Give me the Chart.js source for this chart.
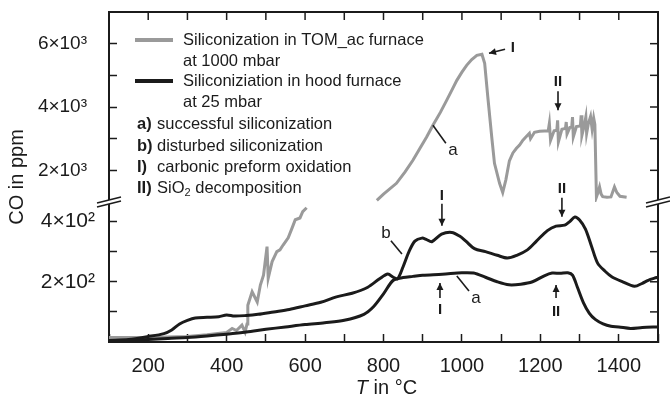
<!DOCTYPE html>
<html><head><meta charset="utf-8">
<script src="https://cdn.jsdelivr.net/npm/chart.js@4.4.1/dist/chart.umd.min.js"></script>
<style>html,body{margin:0;padding:0;background:#fff}canvas{display:block}</style>
</head><body>
<canvas id="c" width="670" height="399"></canvas>
<script>
// ---------- data ----------
// Series 1: Siliconization in TOM_ac furnace at 1000 mbar (grey) – lower axis part
const grayLowT  = [100,200,300,350,400, 414,425,439,447,452, 454,465,478,486,494, 503,506,516,528,536, 544,557,567,575,587, 594,604];
const grayLowCO = [15,15,18,24,32, 45,38,56,33,60, 122,167,133,189,222, 317,212,267,300,306, 322,346,379,406,412, 433,446];
// grey – upper axis part
const grayHighT  = [783,800,833,855,875,893,910,926,945,961,
                    975,987,1000,1012,1025,1038,1051,1058,1066,1076,
                    1083,1096,1104,1112,1121,1130,1139,1147,1155,1163,
                    1172,1175,1185,1198,1210,1220,1223,1226,1235,1242,
                    1244,1246,1255,1264,1266,1268,1275,1280,1282,1284,
                    1292,1302,1304,1306,1312,1316,1318,1322,1328,1332,
                    1336,1339,1343,1347,1351,1355,1359,1370,1380,1389,
                    1395,1403,1420];
const grayHighCO = [1050,1250,1590,1950,2316,2700,3052,3421,3830,4211,
                    4550,4842,5100,5316,5500,5632,5663,5379,4316,3052,
                    2221,1590,1300,1700,2300,2550,2695,2800,2947,3050,
                    3168,3000,3200,3232,3240,3242,3484,2947,3250,3263,
                    3579,2895,3300,3326,3526,3150,3350,3368,3684,3052,
                    3380,3400,3737,3105,3420,3684,3168,3450,3700,3300,
                    3650,3450,1158,1300,1474,1250,1170,1150,1160,1474,
                    1300,1180,1150];
// Series 2: Siliconiziation in hood furnace at 25 mbar – a) successful
const blackAT  = [100,150,200,250,300,350,400,450,500,550,
                  600,650,700,750,775,800,825,850,875,900,
                  950,1000,1030,1060,1090,1120,1150,1180,1210,1230,
                  1250,1270,1282,1295,1310,1325,1340,1360,1380,1400,
                  1430,1460,1500];
const blackACO = [3,5,8,12,15,20,26,33,42,50,
                  58,64,72,92,118,160,205,214,218,222,
                  225,230,229,215,200,190,192,200,220,229,
                  228,230,222,180,130,95,75,60,52,50,
                  45,48,50];
// b) disturbed
const blackBT  = [100,150,200,240,260,280,300,320,350,380,
                  400,420,450,480,520,560,600,640,680,720,
                  760,790,811,825,836,850,865,880,898,910,
                  923,948,974,994,1010,1032,1060,1090,1116,1140,
                  1167,1190,1218,1240,1262,1275,1288,1300,1315,1330,
                  1346,1365,1382,1410,1440,1460,1475,1491,1500];
const blackBCO = [5,8,18,28,40,60,72,80,82,84,
                  90,86,88,92,100,108,120,132,150,162,
                  182,210,226,215,210,250,300,335,345,340,
                  333,358,364,352,335,310,300,288,279,288,
                  306,335,370,385,388,400,415,405,375,320,
                  262,235,217,200,185,195,205,212,215];
// tick labels
const xTickValues  = [200,400,600,800,1000,1200,1400];
const hiTickValues = [2000,4000,6000];
const hiTickText   = ['2×10³','4×10³','6×10³'];
const loTickValues = [200,400];
const loTickText   = ['2×10²','4×10²'];
const seriesNames  = ['Siliconization in TOM_ac furnace','Siliconiziation in hood furnace'];
const seriesSub    = ['at 1000 mbar','at 25 mbar'];
const noteItems    = [['a)','successful siliconization'],['b)','disturbed siliconization'],['I)','carbonic preform oxidation'],['II)','SiO','2',' decomposition']];

// ---------- styling ----------
const F = "'Liberation Sans', Arial, Helvetica, sans-serif";
const GRAY = '#9a9a9a', INK = '#1b1b1b';
const pts = (t, v) => t.map((x, i) => ({x, y: v[i]}));

// annotations in data coordinates
const notes = [
  {axis:'yHi', line:[[926,3422],[959,2853]], text:'a', at:[977,2632]},
  {axis:'yHi', arrow:[[1110,5824],[1069,5697]], text:'I', at:[1130,5880], bold:true},
  {axis:'yHi', arrow:[[1245,4496],[1245,3896]], text:'II', at:[1245,4781], bold:true},
  {axis:'yLo', arrow:[[949,459],[949,386]], text:'I', at:[949,486], bold:true},
  {axis:'yLo', arrow:[[1255,479],[1255,416]], text:'II', at:[1255,509], bold:true},
  {axis:'yLo', line:[[819,336],[847,292]], text:'b', at:[806,362]},
  {axis:'yLo', arrow:[[944,146],[944,196]], text:'I', at:[944,106], bold:true},
  {axis:'yLo', line:[[987,219],[1018,169]], text:'a', at:[1036,146]},
  {axis:'yLo', arrow:[[1240,146],[1240,189]], text:'II', at:[1240,99], bold:true}
];

function seg(ctx, x1, y1, x2, y2){ctx.beginPath();ctx.moveTo(x1,y1);ctx.lineTo(x2,y2);ctx.stroke();}
function arrow(ctx, x1, y1, x2, y2){
  seg(ctx,x1,y1,x2,y2);
  const a = Math.atan2(y2-y1, x2-x1), L = 7, W = 3.5;
  ctx.beginPath(); ctx.moveTo(x2,y2);
  ctx.lineTo(x2 - L*Math.cos(a) + W*Math.sin(a), y2 - L*Math.sin(a) - W*Math.cos(a));
  ctx.lineTo(x2 - L*Math.cos(a) - W*Math.sin(a), y2 - L*Math.sin(a) + W*Math.cos(a));
  ctx.closePath(); ctx.fill();
}

const deco = {
  id: 'deco',
  afterDraw(chart){
    const {ctx, chartArea: ca, scales} = chart;
    const sx = scales.x, hi = scales.yHi, lo = scales.yLo;
    ctx.save();
    ctx.strokeStyle = INK; ctx.fillStyle = INK; ctx.lineCap = 'butt';
    // top + right frame
    ctx.lineWidth = 2;
    ctx.beginPath(); ctx.moveTo(ca.left, ca.top); ctx.lineTo(ca.right, ca.top); ctx.lineTo(ca.right, ca.bottom); ctx.stroke();
    // inward ticks on top and right
    ctx.lineWidth = 1.5;
    sx.ticks.forEach(t => { const p = sx.getPixelForValue(t.value); seg(ctx, p, ca.top, p, ca.top + 8); });
    [hi, lo].forEach(s => s.ticks.forEach(t => { const p = s.getPixelForValue(t.value); seg(ctx, ca.right, p, ca.right - 8, p); }));
    // axis breaks
    const yb = hi.bottom;
    [ca.left, ca.right].forEach(xc => {
      ctx.fillStyle = '#fff';
      ctx.beginPath(); ctx.moveTo(xc-12, yb+1); ctx.lineTo(xc+12, yb-5); ctx.lineTo(xc+12, yb-1); ctx.lineTo(xc-12, yb+5); ctx.closePath(); ctx.fill();
      ctx.lineWidth = 1.5;
      seg(ctx, xc-12, yb+1, xc+12, yb-5);
      seg(ctx, xc-12, yb+5, xc+12, yb-1);
    });
    ctx.fillStyle = INK;
    // y title
    ctx.save();
    ctx.translate(17, (ca.top + ca.bottom) / 2); ctx.rotate(-Math.PI/2);
    ctx.font = `20px ${F}`; ctx.textAlign = 'center'; ctx.textBaseline = 'middle';
    ctx.fillText('CO in ppm', 0, 0);
    ctx.restore();
    // x title with italic T
    ctx.textBaseline = 'middle'; ctx.textAlign = 'left';
    ctx.font = `italic 20px ${F}`; const wT = ctx.measureText('T').width;
    ctx.font = `20px ${F}`; const wR = ctx.measureText(' in °C').width;
    const x0 = (ca.left + ca.right)/2 + 3 - (wT + wR)/2, yT = 388;
    ctx.font = `italic 20px ${F}`; ctx.fillText('T', x0, yT);
    ctx.font = `20px ${F}`; ctx.fillText(' in °C', x0 + wT, yT);
    // legend
    const L0 = ca.left, T0 = ca.top;
    ctx.lineWidth = 4;
    ctx.strokeStyle = GRAY; seg(ctx, L0+26, T0+28, L0+64, T0+28);
    ctx.strokeStyle = INK;  seg(ctx, L0+26, T0+69, L0+64, T0+69);
    ctx.font = `16.5px ${F}`; ctx.fillStyle = INK;
    ctx.fillText(seriesNames[0], L0+74, T0+28);
    ctx.fillText(seriesSub[0], L0+74, T0+49);
    ctx.fillText(seriesNames[1], L0+74, T0+69);
    ctx.fillText(seriesSub[1], L0+74, T0+90);
    const ys = [112, 134, 155, 176];
    noteItems.forEach((it, i) => {
      const y = T0 + ys[i];
      ctx.font = `bold 16.5px ${F}`; ctx.fillText(it[0], L0+28, y);
      ctx.font = `16.5px ${F}`;
      ctx.fillText(it[1], L0+48, y);
      if (it.length > 2) {
        const w = ctx.measureText(it[1]).width;
        ctx.font = `11px ${F}`; ctx.fillText(it[2], L0+48+w, y+5);
        const w2 = ctx.measureText(it[2]).width;
        ctx.font = `16.5px ${F}`; ctx.fillText(it[3], L0+48+w+w2, y);
      }
    });
    // annotations
    ctx.strokeStyle = INK; ctx.fillStyle = INK; ctx.lineWidth = 1.6;
    ctx.textAlign = 'center'; ctx.textBaseline = 'middle';
    notes.forEach(n => {
      const ys_ = scales[n.axis];
      const P = ([t, v]) => [sx.getPixelForValue(t), ys_.getPixelForValue(v)];
      if (n.line) { const a = P(n.line[0]), b = P(n.line[1]); seg(ctx, a[0], a[1], b[0], b[1]); }
      if (n.arrow) { const a = P(n.arrow[0]), b = P(n.arrow[1]); arrow(ctx, a[0], a[1], b[0], b[1]); }
      const q = P(n.at);
      ctx.font = (n.bold ? 'bold 15px ' : '17px ') + F;
      ctx.fillText(n.text, q[0], q[1]);
    });
    ctx.restore();
  }
};

const tickFont = {family: F, size: 20};
const fixY = s => { s.width = 73; s.paddingTop = 0; s.paddingBottom = 0; };
new Chart(document.getElementById('c'), {
  type: 'line',
  data: {
    datasets: [
      {label: 'a) successful', data: pts(blackAT, blackACO), yAxisID: 'yLo', borderColor: INK, borderWidth: 3, pointRadius: 0, tension: 0.3},
      {label: 'b) disturbed', data: pts(blackBT, blackBCO), yAxisID: 'yLo', borderColor: INK, borderWidth: 3, pointRadius: 0, tension: 0.3},
      {label: 'TOM_ac low', data: pts(grayLowT, grayLowCO), yAxisID: 'yLo', borderColor: GRAY, borderWidth: 3, pointRadius: 0, tension: 0},
      {label: 'TOM_ac high', data: pts(grayHighT, grayHighCO), yAxisID: 'yHi', borderColor: GRAY, borderWidth: 3, pointRadius: 0, tension: 0}
    ]
  },
  options: {
    responsive: false, animation: false, devicePixelRatio: 1,
    layout: {padding: {left: 36, top: 12, right: 12, bottom: 0}},
    plugins: {legend: {display: false}, tooltip: {enabled: false}},
    scales: {
      x: {
        type: 'linear', position: 'bottom', min: 100, max: 1500,
        ticks: {stepSize: 100, autoSkip: false, includeBounds: false, maxRotation: 0, font: tickFont, color: INK, padding: 20,
                callback: v => xTickValues.includes(v) ? String(v) : ''},
        grid: {drawOnChartArea: false, tickLength: -8, tickWidth: 1.5, tickColor: INK},
        border: {display: true, color: INK, width: 2},
        afterFit: s => { s.height = 57; s.paddingLeft = 0; s.paddingRight = 0; }
      },
      yHi: {
        type: 'linear', position: 'left', stack: 'co', stackWeight: 190, weight: 1,
        min: 1000, max: 7000,
        afterBuildTicks: s => { s.ticks = s.ticks.filter(t => t.value >= 2000 && t.value <= 6000); },
        ticks: {stepSize: 1000, autoSkip: false, includeBounds: false, font: {family: F, size: 19}, color: INK, padding: 30,
                callback: v => { const i = hiTickValues.indexOf(v); return i >= 0 ? hiTickText[i] : ''; }},
        grid: {drawOnChartArea: false, tickLength: -8, tickWidth: 1.5, tickColor: INK},
        border: {display: true, color: INK, width: 2},
        afterFit: fixY
      },
      yLo: {
        type: 'linear', position: 'left', stack: 'co', stackWeight: 140, weight: 0,
        min: 0, max: 465,
        afterBuildTicks: s => { s.ticks = s.ticks.filter(t => t.value >= 100 && t.value <= 400); },
        ticks: {stepSize: 100, autoSkip: false, includeBounds: false, font: {family: F, size: 21}, color: INK, padding: 22,
                callback: v => { const i = loTickValues.indexOf(v); return i >= 0 ? loTickText[i] : ''; }},
        grid: {drawOnChartArea: false, tickLength: -8, tickWidth: 1.5, tickColor: INK},
        border: {display: true, color: INK, width: 2},
        afterFit: fixY
      }
    }
  },
  plugins: [deco]
});
</script>
</body></html>
